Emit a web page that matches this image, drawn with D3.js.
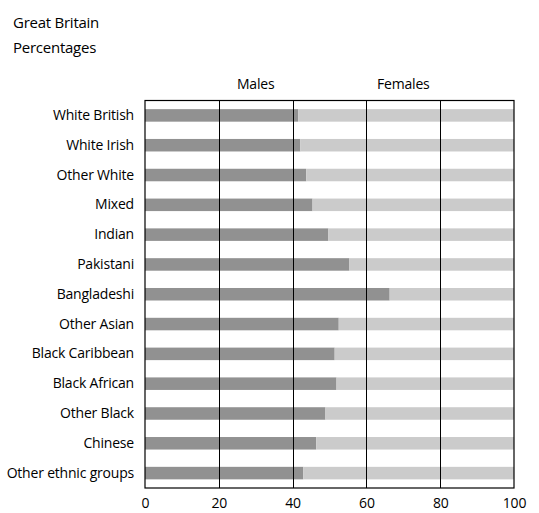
<!DOCTYPE html>
<html><head><meta charset="utf-8">
<script src="https://cdn.jsdelivr.net/npm/d3@7"></script>
<style>body{margin:0;background:#fff;} svg{display:block;} text{font-family:"Open Sans", sans-serif;fill:#000;}</style>
</head><body>
<svg id="chart" width="539" height="513"></svg>
<script>
const categories = ["White British","White Irish","Other White","Mixed","Indian","Pakistani","Bangladeshi","Other Asian","Black Caribbean","Black African","Other Black","Chinese","Other ethnic groups"];
const males = [41.5, 42.1, 43.7, 45.4, 49.7, 55.4, 66.3, 52.5, 51.4, 51.9, 48.9, 46.4, 42.9];
const females = males.map(m => +(100 - m).toFixed(1));
const xTicks = [0, 20, 40, 60, 80, 100];
const seriesNames = ["Males", "Females"];
const titleLines = ["Great Britain", "Percentages"];

const svg = d3.select("#chart");
const m = {left:145, right:25, top:100.5, bottom:25};
const W = 539, H = 513;
const FONT = '"Open Sans", sans-serif';
const x = d3.scaleLinear().domain([0,100]).range([m.left, W - m.right]);
const y = d3.scaleBand().domain(categories).range([m.top, H - m.bottom]).paddingInner(0.58).paddingOuter(0.29);

svg.selectAll("text.title").data(titleLines).enter().append("text")
  .attr("class","title").attr("x",13).attr("y",(d,i)=>28+i*25)
  .style("font-size","15px").style("letter-spacing","-0.25px").text(d=>d);

// bars
const rows = categories.map((c,i)=>({c, m:males[i], f:females[i]}));
svg.selectAll("rect.m").data(rows).enter().append("rect")
  .attr("x", x(0)).attr("y", d=>y(d.c)).attr("width", d=>x(d.m)-x(0)).attr("height", y.bandwidth())
  .attr("fill","#919191");
svg.selectAll("rect.f").data(rows).enter().append("rect")
  .attr("x", d=>x(d.m)).attr("y", d=>y(d.c)).attr("width", d=>x(d.m + d.f)-x(d.m)).attr("height", y.bandwidth())
  .attr("fill","#cbcbcb");

// grid lines
svg.selectAll("line.grid").data(xTicks.slice(1,-1)).enter().append("line")
  .attr("x1", d=>Math.round(x(d))+0.5).attr("x2", d=>Math.round(x(d))+0.5)
  .attr("y1", m.top).attr("y2", H - m.bottom).attr("stroke","#000").attr("stroke-width",1);

// frame
svg.append("rect").attr("x", x(0)).attr("y", m.top).attr("width", x(100)-x(0)).attr("height", H-m.bottom-m.top)
  .attr("fill","none").attr("stroke","#000").attr("stroke-width",1.2);

// bottom axis
const xAxis = d3.axisBottom(x).tickValues(xTicks).tickSize(0).tickPadding(10);
const gx = svg.append("g").attr("transform",`translate(0,${H-m.bottom})`).call(xAxis);
gx.select(".domain").remove();
gx.selectAll("text").style("font-size","14px").style("font-family",FONT).style("letter-spacing","-0.2px").attr("fill","#000");

// left axis labels
const yAxis = d3.axisLeft(y).tickSize(0).tickPadding(11);
const gy = svg.append("g").attr("transform",`translate(${m.left},0)`).call(yAxis);
gy.select(".domain").remove();
gy.selectAll("text").style("font-size","14px").style("font-family",FONT).style("letter-spacing","-0.2px").attr("fill","#000");

// series header labels
svg.selectAll("text.hdr").data([{n:seriesNames[0],v:30},{n:seriesNames[1],v:70}]).enter().append("text")
  .attr("class","hdr").attr("x",d=>x(d.v)).attr("y",89).attr("text-anchor","middle")
  .style("font-size","14px").style("letter-spacing","-0.2px").text(d=>d.n);
</script>
</body></html>
